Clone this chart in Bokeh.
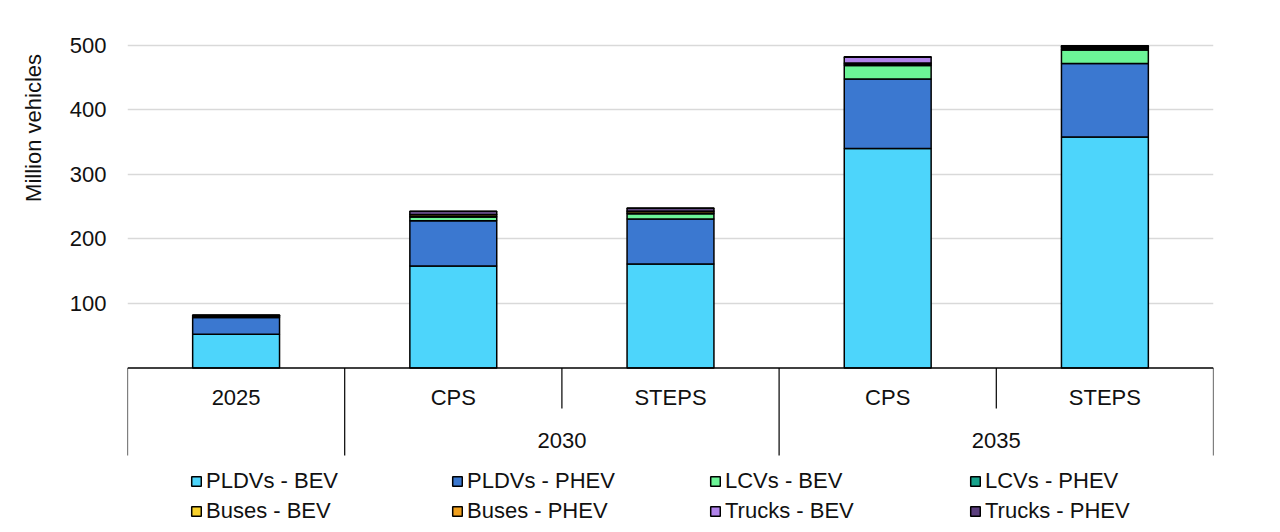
from bokeh.plotting import figure
from bokeh.layouts import row
from bokeh.models import Range1d, FixedTicker, Legend, LegendItem, ColumnDataSource
from bokeh.core.properties import value
from bokeh.embed import file_html
from bokeh.resources import INLINE

# ---- data ----
categories = ["2025", "CPS", "STEPS", "CPS", "STEPS"]
groups = ["", "2030", "2030", "2035", "2035"]
series = ["PLDVs - BEV", "PLDVs - PHEV", "LCVs - BEV", "LCVs - PHEV",
          "Buses - BEV", "Buses - PHEV", "Trucks - BEV", "Trucks - PHEV"]
pldv_bev = [52, 158, 161, 340, 358]
pldv_phev = [26, 70, 70, 108, 114]
lcv_bev = [1, 6, 8, 21, 21]
lcv_phev = [0.3, 1, 1, 1, 1]
bus_bev = [1.5, 3, 3, 2.5, 2.5]
bus_phev = [0.1, 0.3, 0.3, 0.3, 1.5]
truck_bev = [0.8, 4, 4, 9, 1]
truck_phev = [0.2, 0.5, 0.5, 0.7, 0.5]
y_ticks = [100, 200, 300, 400, 500]
y_title = "Million vehicles"
colors = ["#4dd5fb", "#3b78d0", "#6cf597", "#17a38c",
          "#f8d12b", "#f0a01e", "#b083ea", "#5b3f7e"]

FONT = "Liberation Sans"
TXT = "#111111"
n = len(categories)
xs = list(range(n))

yr = Range1d(-242.8, 520)

p = figure(width=1222, height=524, output_backend="svg", toolbar_location=None,
           x_range=Range1d(-0.5, n - 0.5), y_range=yr,
           min_border_left=77, min_border_right=59, min_border_top=32,
           min_border_bottom=0)
p.outline_line_color = None
p.xaxis.visible = False
p.xgrid.visible = False

ya = p.yaxis[0]
ya.ticker = FixedTicker(ticks=y_ticks)
ya.axis_line_color = None
ya.major_tick_line_color = None
ya.minor_tick_line_color = None
ya.major_tick_out = 0
ya.minor_tick_out = 0
ya.major_label_standoff = 21
ya.major_label_text_font = FONT
ya.major_label_text_font_size = "22px"
ya.major_label_text_color = TXT

p.ygrid.ticker = FixedTicker(ticks=y_ticks)
p.ygrid.grid_line_color = "#d9d9d9"
p.ygrid.grid_line_width = 1.5

keys = ["s%d" % i for i in range(len(series))]
data = dict(x=xs)
for k, arr in zip(keys, [pldv_bev, pldv_phev, lcv_bev, lcv_phev,
                         bus_bev, bus_phev, truck_bev, truck_phev]):
    data[k] = arr
src = ColumnDataSource(data)
renderers = p.vbar_stack(keys, x="x", width=0.4, source=src, color=colors,
                         line_color="black", line_width=1.5)

# ---- category table below the bars ----
row1_y = -45.7
row2_y = -112.4
short_y = -62.8
bottom_y = -135.7
p.segment(x0=[-0.5], y0=[0], x1=[n - 0.5], y1=[0], line_color="black", line_width=1.5)
sx, sy0, sy1 = [-0.5, n - 0.5], [0, 0], [bottom_y, bottom_y]
for i in range(n - 1):
    sx.append(i + 0.5)
    sy0.append(0)
    sy1.append(bottom_y if groups[i] != groups[i + 1] else short_y)
p.segment(x0=sx, y0=sy0, x1=sx, y1=sy1, line_color="black", line_width=1.2)

p.text(x=xs, y=[row1_y] * n, text=categories, text_font=value(FONT),
       text_font_size="22px", text_align="center", text_baseline="middle",
       text_color=TXT)
glabels, gx = [], []
for g in dict.fromkeys(groups):
    if g:
        idx = [i for i, gg in enumerate(groups) if gg == g]
        glabels.append(g)
        gx.append(sum(idx) / len(idx))
p.text(x=gx, y=[row2_y] * len(gx), text=glabels, text_font=value(FONT),
       text_font_size="22px", text_align="center", text_baseline="middle",
       text_color=TXT)

# ---- legend: 4 columns x 2 rows ----
col_x = [63, 324, 582, 842]
for c in range(4):
    items = [LegendItem(label=series[c], renderers=[renderers[c]]),
             LegendItem(label=series[c + 4], renderers=[renderers[c + 4]])]
    lg = Legend(items=items, location=(col_x[c], 0), orientation="vertical",
                padding=0, margin=0, spacing=4, glyph_width=12, glyph_height=12,
                label_standoff=4, label_text_font=FONT, label_text_font_size="22px",
                label_text_color=TXT, border_line_alpha=0,
                background_fill_alpha=0, label_height=24)
    p.add_layout(lg, "center")

# ---- y-axis title in a narrow side figure sharing the y range ----
t = figure(width=50, height=524, output_backend="svg", toolbar_location=None,
           x_range=Range1d(0, 50), y_range=yr,
           min_border_left=0, min_border_right=0, min_border_top=32,
           min_border_bottom=0)
t.axis.visible = False
t.grid.visible = False
t.outline_line_color = None
t.text(x=[33], y=[372], text=[y_title], angle=1.5708, text_font=value(FONT),
       text_font_size="22px", text_align="center", text_baseline="middle",
       text_color=TXT)

layout = row(t, p)
open("out.html", "w").write(file_html(layout, INLINE))
